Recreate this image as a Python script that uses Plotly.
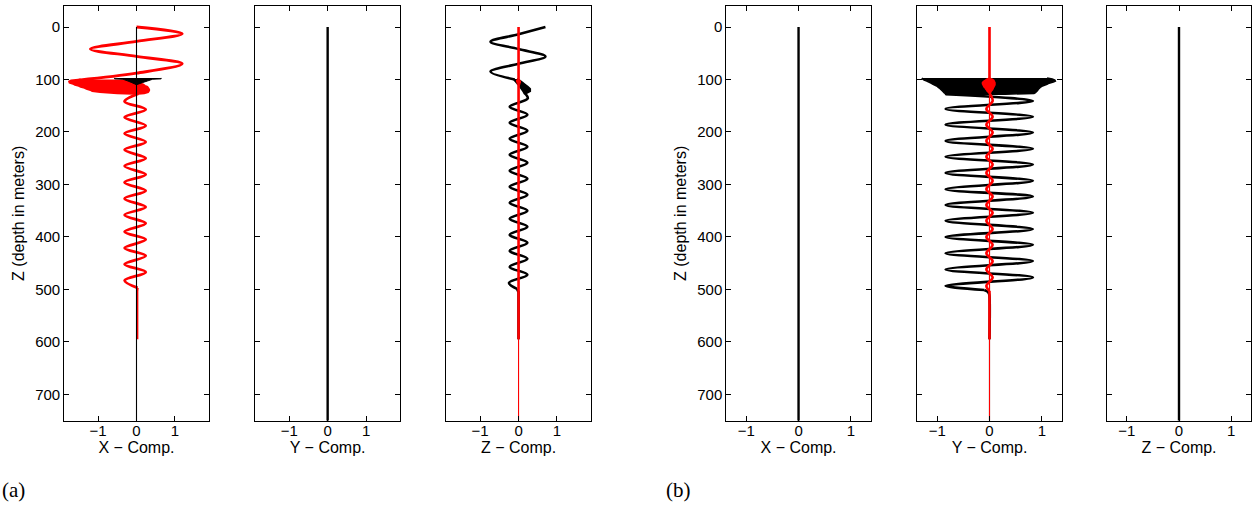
import plotly.graph_objects as go

# ---------------- data (depth in m, component amplitude) ----------------
# Panel (a), X component, red trace
ax_red_top_depth = [0, 13, 27.5, 42, 56, 70, 88, 101]
ax_red_top_val = [0.0, 1.19, 0.0, -1.2, 0.0, 1.19, 0.0, -1.5]
# burst envelope (left / right extent at each depth)
ax_red_burst_depth = [100, 102, 104, 106, 108, 110, 112, 114, 116, 118, 120, 122, 124, 126, 127]
ax_red_burst_left = [-1.45, -1.7, -1.75, -1.74, -1.65, -1.6, -1.5, -1.45, -1.35, -1.3, -1.2, -1.15, -0.95, -0.5, -0.1]
ax_red_burst_right = [-0.05, 0.0, 0.05, 0.08, 0.12, 0.18, 0.22, 0.28, 0.3, 0.32, 0.33, 0.32, 0.3, 0.2, 0.05]
ax_red_wave_depth = [127, 142, 157, 172, 188, 203, 219, 234, 250, 265, 281, 296, 312, 327, 343,
                     358, 374, 390, 405, 421, 436, 452, 467, 483, 497]
ax_red_wave_val = [0.05, -0.31, 0.24, -0.31, 0.24, -0.31, 0.24, -0.31, 0.24, -0.31, 0.24, -0.31, 0.24,
                   -0.31, 0.24, -0.31, 0.24, -0.31, 0.24, -0.31, 0.24, -0.31, 0.24, -0.31, 0.03]
ax_red_tail_depth = [497, 503, 595]
ax_red_tail_val = [0.03, 0.02, 0.02]
# Panel (a), X component, black trace
ax_blk_depth = [0, 750]
ax_blk_val = [0.0, 0.0]
ax_blk_burst_depth = [97, 98.8, 99.5, 103, 106, 110]
ax_blk_burst_left = [-0.57, -0.57, -0.35, -0.22, -0.12, 0.0]
ax_blk_burst_right = [0.64, 0.64, 0.42, 0.28, 0.15, 0.0]

# Panel (a), Y component
ay_blk_depth = [0, 750]
ay_blk_val = [0.0, 0.0]

# Panel (a), Z component, black trace
az_blk_top_depth = [0, 14, 28, 42, 56, 70, 85, 100]
az_blk_top_val = [0.70, 0.0, -0.73, 0.0, 0.70, 0.0, -0.73, -0.1]
az_blk_burst_depth = [99, 102, 106, 110, 114, 118, 122, 126]
az_blk_burst_left = [-0.12, -0.1, -0.05, 0.0, 0.04, 0.08, 0.12, 0.15]
az_blk_burst_right = [-0.04, 0.03, 0.1, 0.17, 0.24, 0.3, 0.3, 0.2]
az_blk_wave_depth = [126, 136, 152, 167, 182.5, 197.5, 213, 228, 243.5, 258.5, 274, 289, 304.5, 319.5,
                     335, 350, 365.5, 380.5, 396, 411, 426.5, 441.5, 457, 472, 487.5, 499]
az_blk_wave_val = [0.16, 0.24, -0.23, 0.23, -0.23, 0.23, -0.23, 0.23, -0.23, 0.23, -0.23, 0.23, -0.23, 0.23,
                   -0.23, 0.23, -0.23, 0.23, -0.23, 0.23, -0.23, 0.23, -0.23, 0.23, -0.25, -0.04]
az_blk_tail_depth = [499, 505, 595]
az_blk_tail_val = [-0.04, 0.0, 0.0]
# Panel (a), Z component, red trace
az_red_depth = [0, 102, 103, 104, 105, 106, 107, 108, 109, 110, 111, 595]
az_red_val = [0.0, 0.0, -0.06, 0.06, -0.05, 0.05, -0.04, 0.04, -0.02, 0.02, 0.0, 0.0]
az_red_thin_depth = [0, 750]
az_red_thin_val = [0.0, 0.0]

# Panel (b), X and Z components
bx_blk_depth = [0, 750]
bx_blk_val = [0.0, 0.0]
bz_blk_depth = [0, 750]
bz_blk_val = [0.0, 0.0]

# Panel (b), Y component, black trace
by_blk_line_depth = [0, 750]
by_blk_line_val = [0.0, 0.0]
by_blk_burst_depth = [97, 99, 101, 103, 105, 107, 109, 111, 113, 115, 117, 119, 121, 123, 125, 126.5, 128]
by_blk_burst_left = [-1.29, -1.28, -1.25, -1.2, -1.16, -1.12, -1.08, -1.04, -1.0, -0.98, -0.95, -0.93,
                     -0.91, -0.89, -0.87, -0.85, -0.84]
by_blk_burst_right = [1.1, 1.2, 1.25, 1.26, 1.22, 1.14, 1.1, 1.05, 1.0, 0.97, 0.95, 0.93, 0.92, 0.9,
                      0.88, 0.85, 0.3]
by_blk_wave_depth = [128, 141, 156, 171, 186, 201, 217, 232, 247, 262, 278, 293, 309, 323, 339, 354,
                     369, 385, 400, 415, 431, 446, 462, 477, 493, 501]
by_blk_wave_val = [-0.84, 0.83, -0.84, 0.83, -0.84, 0.83, -0.84, 0.83, -0.84, 0.83, -0.84, 0.83, -0.84,
                   0.83, -0.84, 0.83, -0.84, 0.83, -0.84, 0.83, -0.84, 0.83, -0.84, 0.83, -0.84, -0.1]
by_blk_tail_depth = [501, 504, 508, 513, 595]
by_blk_tail_val = [-0.1, -0.04, -0.01, 0.0, 0.0]
# Panel (b), Y component, red trace
by_red_top_depth = [0, 98]
by_red_top_val = [0.0, 0.0]
by_red_burst_depth = [98, 100, 102, 104, 106, 108, 110, 112, 114, 116, 118, 120, 122, 124, 126]
by_red_burst_left = [0.0, -0.05, -0.08, -0.11, -0.13, -0.13, -0.12, -0.11, -0.1, -0.08, -0.07, -0.05,
                     -0.04, -0.02, 0.0]
by_red_burst_right = [0.0, 0.05, 0.08, 0.09, 0.1, 0.1, 0.1, 0.09, 0.08, 0.07, 0.06, 0.05, 0.03, 0.02, 0.0]
by_red_wave_depth = [126, 141, 156, 171, 186, 201, 217, 232, 247, 262, 278, 293, 309, 323, 339, 354,
                     369, 385, 400, 415, 431, 446, 462, 477, 493, 503]
by_red_wave_val = [0.0, 0.06, -0.06, 0.06, -0.06, 0.06, -0.06, 0.06, -0.06, 0.06, -0.06, 0.06, -0.06,
                   0.06, -0.06, 0.06, -0.06, 0.06, -0.06, 0.06, -0.06, 0.06, -0.06, 0.06, -0.06, 0.0]
by_red_tail_depth = [503, 595]
by_red_tail_val = [0.0, 0.0]
by_red_thin_depth = [0, 750]
by_red_thin_val = [0.0, 0.0]

comp_titles = ["X \u2212 Comp.", "Y \u2212 Comp.", "Z \u2212 Comp.",
               "X \u2212 Comp.", "Y \u2212 Comp.", "Z \u2212 Comp."]
depth_ticks = [0, 100, 200, 300, 400, 500, 600, 700]
comp_ticks = [-1, 0, 1]
panel_labels = ["(a)", "(b)"]

# ---------------- figure ----------------
W, H = 1252, 510
RED, BLK = "#ff0000", "#000000"
fig = go.Figure()


def axes(n):
    return ("x" if n == 1 else f"x{n}"), ("y" if n == 1 else f"y{n}")


def add(n, depth, val, color, width, shape="linear"):
    xa, ya = axes(n)
    fig.add_trace(go.Scatter(
        x=val, y=depth, mode="lines",
        line=dict(color=color, width=width, shape=shape, simplify=False),
        xaxis=xa, yaxis=ya, showlegend=False, hoverinfo="skip"))


def add_burst(n, depth, left, right, color, width=1.5):
    xa, ya = axes(n)
    fig.add_trace(go.Scatter(
        x=list(left) + list(right)[::-1], y=list(depth) + list(depth)[::-1],
        mode="lines", fill="toself", fillcolor=color,
        line=dict(color=color, width=width, simplify=False),
        xaxis=xa, yaxis=ya, showlegend=False, hoverinfo="skip"))


# (a) X
add(1, ax_red_top_depth, ax_red_top_val, RED, 2.8, "spline")
add_burst(1, ax_red_burst_depth, ax_red_burst_left, ax_red_burst_right, RED, 2.0)
add(1, ax_red_wave_depth, ax_red_wave_val, RED, 2.8, "spline")
add(1, ax_red_tail_depth, ax_red_tail_val, RED, 2.2)
add(1, ax_blk_depth, ax_blk_val, BLK, 1.1)
add_burst(1, ax_blk_burst_depth, ax_blk_burst_left, ax_blk_burst_right, BLK, 1.0)
# (a) Y
add(2, ay_blk_depth, ay_blk_val, BLK, 2.4)
# (a) Z
add(3, az_blk_top_depth, az_blk_top_val, BLK, 2.6, "spline")
add_burst(3, az_blk_burst_depth, az_blk_burst_left, az_blk_burst_right, BLK, 2.0)
add(3, az_blk_wave_depth, az_blk_wave_val, BLK, 2.6, "spline")
add(3, az_blk_tail_depth, az_blk_tail_val, BLK, 2.6)
add(3, az_red_thin_depth, az_red_thin_val, RED, 1.1)
add(3, az_red_depth, az_red_val, RED, 2.6)
# (b) X
add(4, bx_blk_depth, bx_blk_val, BLK, 2.4)
# (b) Y
add(5, by_blk_line_depth, by_blk_line_val, BLK, 1.1)
add_burst(5, by_blk_burst_depth, by_blk_burst_left, by_blk_burst_right, BLK, 1.5)
add(5, by_blk_wave_depth, by_blk_wave_val, BLK, 2.6, "spline")
add(5, by_blk_tail_depth, by_blk_tail_val, BLK, 2.6, "spline")
add(5, by_red_thin_depth, by_red_thin_val, RED, 1.1)
add(5, by_red_top_depth, by_red_top_val, RED, 2.6)
add_burst(5, by_red_burst_depth, by_red_burst_left, by_red_burst_right, RED, 2.0)
add(5, by_red_wave_depth, by_red_wave_val, RED, 2.6, "spline")
add(5, by_red_tail_depth, by_red_tail_val, RED, 2.6)
# (b) Z
add(6, bz_blk_depth, bz_blk_val, BLK, 2.4)

x_pix = [(64.2, 208.8), (255.4, 399.9), (446.3, 590.8),
         (726.3, 870.8), (917.3, 1061.7), (1107.0, 1251.0)]
y_dom = [1 - 420.7 / H, 1 - 6.0 / H]
FONT = "Liberation Sans, Arial, Helvetica, sans-serif"

layout = dict(
    width=W, height=H, margin=dict(l=0, r=0, t=0, b=0),
    paper_bgcolor="white", plot_bgcolor="white",
    font=dict(family=FONT, size=15, color="black"),
)
for i, (x0, x1) in enumerate(x_pix):
    n = i + 1
    xk = "xaxis" if n == 1 else f"xaxis{n}"
    yk = "yaxis" if n == 1 else f"yaxis{n}"
    xr = [-1.88, 1.88] if i < 3 else [-1.38, 1.38]
    layout[xk] = dict(
        domain=[x0 / W, x1 / W], anchor="y" if n == 1 else f"y{n}",
        range=xr, tickvals=comp_ticks, ticks="inside", ticklen=5, tickcolor="black",
        showline=True, linecolor="black", linewidth=1, mirror="ticks",
        showgrid=False, zeroline=False, automargin=False, ticklabelstandoff=-4,
        tickfont=dict(family=FONT, size=15, color="black"),
        title=dict(text=comp_titles[i], font=dict(family=FONT, size=16, color="black"), standoff=0),
    )
    layout[yk] = dict(
        domain=y_dom, anchor="x" if n == 1 else f"x{n}",
        range=[750, -40], tickvals=depth_ticks, ticks="inside", ticklen=5, tickcolor="black",
        showline=True, linecolor="black", linewidth=1, mirror="ticks",
        showgrid=False, zeroline=False, automargin=False,
        showticklabels=(i in (0, 3)),
        tickfont=dict(family=FONT, size=15, color="black"),
    )
    if i in (0, 3):
        layout[yk]["title"] = dict(text="Z (depth in meters)",
                                   font=dict(family=FONT, size=16, color="black"), standoff=6)

fig.update_layout(**layout)
fig.add_annotation(text=panel_labels[0], xref="paper", yref="paper", x=0, y=(H - 490) / H,
                   xanchor="left", yanchor="middle", showarrow=False,
                   font=dict(family="Liberation Serif, DejaVu Serif, serif", size=21, color="black"))
fig.add_annotation(text=panel_labels[1], xref="paper", yref="paper", x=664 / W, y=(H - 490) / H,
                   xanchor="left", yanchor="middle", showarrow=False,
                   font=dict(family="Liberation Serif, DejaVu Serif, serif", size=21, color="black"))

fig.write_html("out.html")
